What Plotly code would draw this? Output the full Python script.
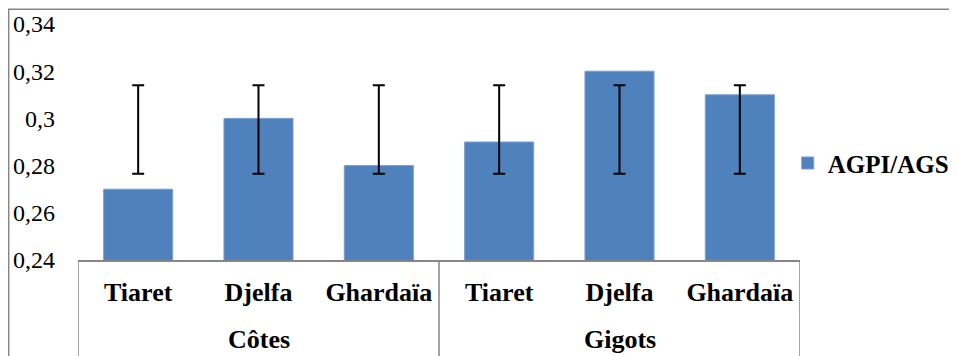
import plotly.graph_objects as go

BAR_COLOR = '#4F81BD'
AXIS_COLOR = '#868686'
SERIF = 'Liberation Serif'

# data
groups = ['Côtes', 'Gigots']
cities = ['Tiaret', 'Djelfa', 'Ghardaïa']
agpi_ags = [0.27, 0.30, 0.28, 0.29, 0.32, 0.31]
err_top = [0.3140, 0.3140, 0.3140, 0.3140, 0.3140, 0.3140]
err_bottom = [0.2765, 0.2765, 0.2765, 0.2765, 0.2765, 0.2765]
y_ticks = [0.24, 0.26, 0.28, 0.30, 0.32, 0.34]

pos = list(range(len(agpi_ags)))
sub_labels = ['<b>%s</b>' % c for c in cities * len(groups)]
err_plus = [t - v for t, v in zip(err_top, agpi_ags)]
err_minus = [v - b for v, b in zip(agpi_ags, err_bottom)]

fig = go.Figure(go.Bar(
    x=pos, y=agpi_ags, name='<b>AGPI/AGS</b>',
    marker=dict(color=BAR_COLOR, line=dict(color='#7a9fcf', width=1)),
    error_y=dict(type='data', symmetric=False, array=err_plus,
                 arrayminus=err_minus, color='black', thickness=2, width=6),
))

# group boxes under the category axis (Excel multi-level axis look)
n = len(cities)
bounds = [g * n - 0.5 for g in range(len(groups) + 1)]
for b in bounds:
    fig.add_shape(type='line', xref='x', yref='paper', x0=b, x1=b, y0=0, y1=-0.6,
                  line=dict(color=AXIS_COLOR, width=1.5))
for g, name in enumerate(groups):
    fig.add_annotation(x=g * n + (n - 1) / 2, xref='x', y=-0.335, yref='paper',
                       text='<b>%s</b>' % name, showarrow=False, yanchor='middle',
                       font=dict(family=SERIF, size=26, color='black'))

# chart area border (cut at right/bottom in the original)
fig.add_shape(type='rect', xref='paper', yref='paper', x0=-0.096, x1=1.5,
              y0=-1.0, y1=1.062, line=dict(color=AXIS_COLOR, width=1.5), layer='below')

# the page body adds an 8px offset, so the figure is 8px smaller
fig.update_layout(
    width=949, height=348, autosize=False,
    margin=dict(l=70, r=157, t=16, b=96, autoexpand=False),
    font=dict(family=SERIF, color='black'),
    paper_bgcolor='white', plot_bgcolor='white',
    separators=', ',
    bargap=0.426,
    showlegend=True,
    legend=dict(x=0.983, xanchor='left', y=0.41, yanchor='middle',
                bgcolor='rgba(0,0,0,0)', font=dict(family=SERIF, size=25)),
    xaxis=dict(range=[-0.5, len(pos) - 0.5], tickvals=pos, ticktext=sub_labels,
               showgrid=False, zeroline=False, showline=True, automargin=False,
               linecolor=AXIS_COLOR, linewidth=1.5, ticks='',
               ticklabelstandoff=8, tickfont=dict(family=SERIF, size=26)),
    yaxis=dict(range=[y_ticks[0], y_ticks[-1]], tickvals=y_ticks, automargin=False,
               showgrid=False, zeroline=False, showline=False, ticks='',
               ticklabelstandoff=22, tickfont=dict(family=SERIF, size=24)),
)

fig.write_html("out.html", config=dict(displayModeBar=False))
